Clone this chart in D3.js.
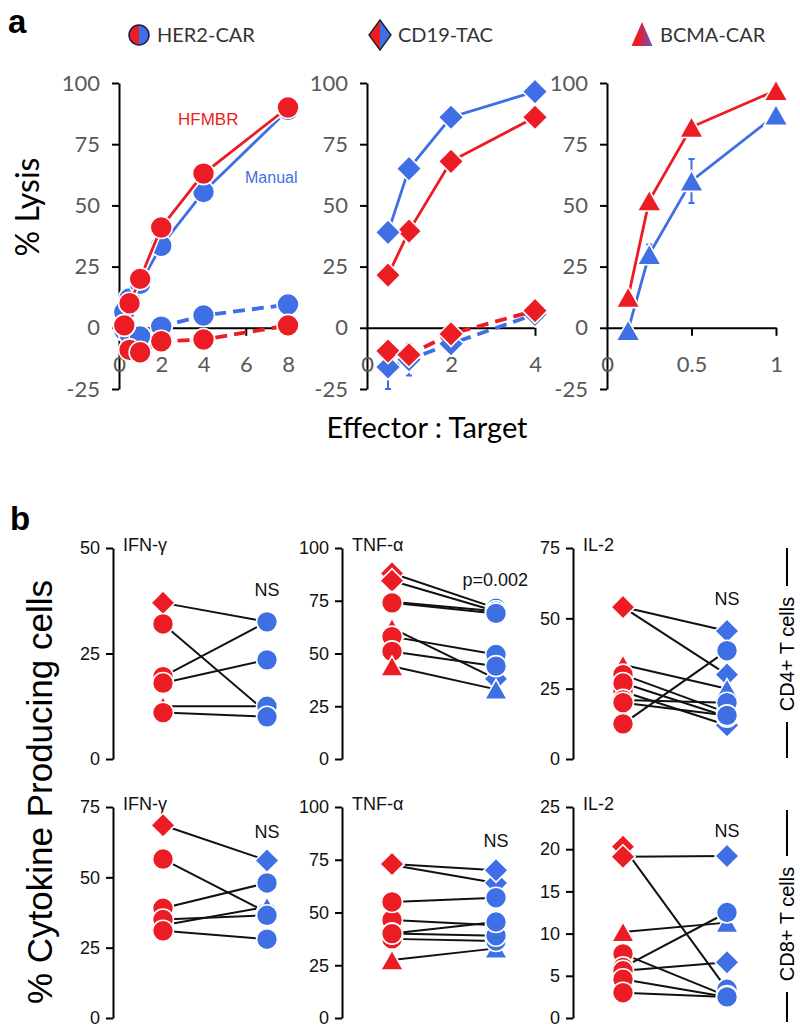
<!DOCTYPE html>
<html><head><meta charset="utf-8">
<script src="https://cdn.jsdelivr.net/npm/d3@7"></script>
<style>body{margin:0;background:#fff} svg{display:block}</style>
</head><body><svg id="chart" width="800" height="1027"></svg>
<script>
// ---------------- DATA ----------------
// Panel a : % lysis vs Effector:Target
const legendLabels = ['HER2-CAR', 'CD19-TAC', 'BCMA-CAR'];
const lysisTicks = [-25, 0, 25, 50, 75, 100];

const etHER2 = [0.25, 0.5, 1, 2, 4, 8];
const etHER2Ticks = [0, 2, 4, 6, 8];
const her2HfmbrCar = [1, 10, 20, 41, 63, 90];
const her2ManualCar = [6.5, 12, 18, 33.5, 55.5, 89];
const her2HfmbrCtrl = [1, -9, -10, -5.5, -4.8, 1];
const her2ManualCtrl = [-1, -2.5, -3.5, 0.5, 5, 9.5];

const etCD19 = [0.5, 1, 2, 4];
const etCD19Ticks = [0, 2, 4];
const cd19HfmbrCar = [21.5, 39.5, 68, 86];
const cd19ManualCar = [39, 65, 86, 96.5];
const cd19HfmbrCtrl = [-9.5, -11, -2.5, 7];
const cd19ManualCtrl = [-16, -13, -6.5, 5.5];
const cd19ManualCtrlErr = [9, 6.5, 0, 0];

const etBCMA = [0.125, 0.25, 0.5, 1];
const etBCMATicks = [0, 0.5, 1];
const bcmaHfmbrCar = [12.5, 52, 82, 97];
const bcmaManualCar = [-1, 30, 60, 87];
const bcmaManualCarErr = [0, 4, 9, 0];

// Panel b : % cytokine producing cells (HFMBR vs Manual, paired donors)
// shapes: c = HER2-CAR, d = CD19-TAC, t = BCMA-CAR
const cd4IfngHfmbr  = [37, 32, 19.5, 18, 12.5, 11];
const cd4IfngManual = [32.5, 11, 32.5, 23.5, 12.5, 10];
const cd4IfngShapeH = ['d', 'c', 'c', 'c', 't', 'c'];
const cd4IfngShapeM = ['c', 'c', 'c', 'c', 'c', 'c'];

const cd4TnfHfmbr  = [88, 84.5, 74.5, 74, 62, 58, 51, 44];
const cd4TnfManual = [71.5, 70, 70, 69, 38, 49.5, 44, 33];
const cd4TnfShapeH = ['d', 'd', 'c', 'c', 't', 'c', 'c', 't'];
const cd4TnfShapeM = ['c', 'c', 'c', 'c', 'd', 'c', 'c', 't'];

const cd4Il2Hfmbr  = [54, 54, 33.5, 24, 30, 27, 21, 20, 12.5];
const cd4Il2Manual = [45.5, 30, 25, 12, 16.5, 15, 20, 15.5, 38.5];
const cd4Il2ShapeH = ['d', 'd', 't', 'c', 'c', 'c', 'c', 'c', 'c'];
const cd4Il2ShapeM = ['d', 'd', 't', 'd', 'c', 'c', 'c', 'c', 'c'];

const cd8IfngHfmbr  = [68.5, 56.5, 39, 33, 35, 31];
const cd8IfngManual = [56, 37.5, 48, 39.5, 36.5, 28];
const cd8IfngShapeH = ['d', 'c', 'c', 'c', 'c', 'c'];
const cd8IfngShapeM = ['d', 'c', 'c', 't', 'c', 'c'];

const cd8TnfHfmbr  = [27.5, 72.5, 37.5, 46.5, 40, 55, 73, 40];
const cd8TnfManual = [33, 64, 36.5, 44, 39, 57, 70, 45.5];
const cd8TnfShapeH = ['t', 'd', 'c', 'c', 'c', 'c', 'd', 'c'];
const cd8TnfShapeM = ['t', 'd', 'c', 'c', 'c', 'c', 'd', 'c'];

const cd8Il2Hfmbr  = [20.3, 19.1, 10.2, 7.6, 6, 5.6, 4.6, 3];
const cd8Il2Manual = [3.4, 19.2, 11.3, 2.6, 12.5, 6.6, 2.5, 2.5];
const cd8Il2ShapeH = ['d', 'd', 't', 'c', 'c', 'c', 'c', 'c'];
const cd8Il2ShapeM = ['c', 'd', 't', 'c', 'c', 'd', 'c', 'c'];

const cytokineNames = ['IFN-γ', 'TNF-α', 'IL-2'];
const cd4Stats = ['NS', 'p=0.002', 'NS'];
const cd8Stats = ['NS', 'NS', 'NS'];
const groups = ['HFMBR', 'Manual'];

// ---------------- DRAWING ----------------
const RED = '#ec1c24', BLUE = '#3f6fe4';
const svg = d3.select('#chart');
const LATO = 'Lato, "Open Sans", sans-serif';
const ARIAL = '"Liberation Sans", Arial, sans-serif';

function markerPath(shape, s) {
  if (shape === 'c') return d3.symbol(d3.symbolCircle, Math.PI * s * s)();
  if (shape === 'd') { const h = s * 1.15; return `M0,${-h}L${h},0L0,${h}L${-h},0Z`; }
  return `M0,${-s * 0.95}L${s * 1.08},${s * 0.95}L${-s * 1.08},${s * 0.95}Z`;
}

// panel letters
svg.append('text').attr('x', 8).attr('y', 33).text('a')
  .attr('font-family', ARIAL).attr('font-weight', 'bold').attr('font-size', 33);
svg.append('text').attr('x', 10).attr('y', 530).text('b')
  .attr('font-family', ARIAL).attr('font-weight', 'bold').attr('font-size', 33);

// legend
const defs = svg.append('defs');
const grad = defs.append('linearGradient').attr('id', 'tri').attr('x1', '0').attr('x2', '1');
grad.append('stop').attr('offset', '0.35').attr('stop-color', RED);
grad.append('stop').attr('offset', '1').attr('stop-color', '#5a5ad8');
const legX = [139, 380, 642];
const legG = svg.append('g');
legendLabels.forEach((lab, i) => {
  const g = legG.append('g').attr('transform', `translate(${legX[i]},35)`);
  if (i === 0) {
    g.append('path').attr('d', d3.arc()({innerRadius: 0, outerRadius: 10, startAngle: Math.PI, endAngle: 2 * Math.PI})).attr('fill', RED);
    g.append('path').attr('d', d3.arc()({innerRadius: 0, outerRadius: 10, startAngle: 0, endAngle: Math.PI})).attr('fill', BLUE);
    g.append('circle').attr('r', 10).attr('fill', 'none').attr('stroke', '#1b1f4a').attr('stroke-width', 1.5);
  } else if (i === 1) {
    g.append('path').attr('d', 'M0,-15L-11,0L0,15Z').attr('fill', RED);
    g.append('path').attr('d', 'M0,-15L11,0L0,15Z').attr('fill', BLUE);
    g.append('path').attr('d', 'M0,-15L11,0L0,15L-11,0Z').attr('fill', 'none').attr('stroke', '#222').attr('stroke-width', 1.4);
  } else {
    g.append('path').attr('d', 'M0,-13L10.5,11L-10.5,11Z').attr('fill', 'url(#tri)');
  }
  svg.append('text').attr('x', legX[i] + 18).attr('y', 42).text(lab)
    .attr('font-family', LATO).attr('font-size', 20).attr('fill', '#333');
});

// Panel a
const yA = d3.scaleLinear().domain([-25, 100]).range([389, 83]);

function series(g, x, xs, ys, color, dashed, shape, errs) {
  const line = d3.line().x((d, i) => x(xs[i])).y(d => yA(d));
  if (!dashed) g.append('path').attr('d', line(ys)).attr('fill', 'none').attr('stroke', '#fff').attr('stroke-width', 6);
  g.append('path').attr('d', line(ys)).attr('fill', 'none').attr('stroke', color)
    .attr('stroke-width', dashed ? 3.8 : 2.8).attr('stroke-dasharray', dashed ? '12,7' : null);
  if (errs) {
    ys.forEach((v, i) => {
      if (!errs[i]) return;
      const cx = x(xs[i]);
      g.append('path').attr('d', `M${cx},${yA(v - errs[i])}V${yA(v + errs[i])}M${cx - 3},${yA(v - errs[i])}H${cx + 3}M${cx - 3},${yA(v + errs[i])}H${cx + 3}`)
        .attr('stroke', color).attr('stroke-width', 2).attr('fill', 'none');
    });
  }
  g.selectAll(null).data(ys).join('path')
    .attr('transform', (d, i) => `translate(${x(xs[i])},${yA(d)})`)
    .attr('d', markerPath(shape, 11)).attr('fill', color).attr('stroke', '#fff').attr('stroke-width', 1.6);
}

function lysisPanel(range, xs, ticks, sets, shape) {
  const x = d3.scaleLinear().domain([0, d3.max(ticks)]).range(range);
  const g = svg.append('g');
  const ya = g.append('g').attr('transform', `translate(${range[0]},0)`)
    .call(d3.axisLeft(yA).tickValues(lysisTicks).tickSize(7).tickSizeOuter(0).tickPadding(12).tickFormat(d => String(d)));
  const xa = g.append('g').attr('transform', `translate(0,${yA(0)})`)
    .call(d3.axisBottom(x).tickValues(ticks).tickSize(8).tickSizeOuter(0).tickPadding(21).tickFormat(d => String(d)));
  [ya, xa].forEach(a => {
    a.selectAll('.domain, line').attr('stroke', '#000').attr('stroke-width', 2);
    a.selectAll('text').attr('font-family', LATO).attr('font-size', 22).attr('fill', '#595959');
  });
  xa.selectAll('.tick').filter(d => d === 0).select('line').remove();
  sets.forEach(s => series(g, x, xs, s.v, s.c, s.dashed, shape, s.err));
}

lysisPanel([119, 288], etHER2, etHER2Ticks, [
  {v: her2ManualCtrl, c: BLUE, dashed: true},
  {v: her2HfmbrCtrl, c: RED, dashed: true},
  {v: her2ManualCar, c: BLUE},
  {v: her2HfmbrCar, c: RED}
], 'c');
lysisPanel([367, 535], etCD19, etCD19Ticks, [
  {v: cd19ManualCtrl, c: BLUE, dashed: true, err: cd19ManualCtrlErr},
  {v: cd19HfmbrCtrl, c: RED, dashed: true},
  {v: cd19HfmbrCar, c: RED},
  {v: cd19ManualCar, c: BLUE}
], 'd');
lysisPanel([607, 776], etBCMA, etBCMATicks, [
  {v: bcmaManualCar, c: BLUE, err: bcmaManualCarErr},
  {v: bcmaHfmbrCar, c: RED}
], 't');

svg.append('text').attr('x', 178).attr('y', 125).text('HFMBR')
  .attr('font-family', ARIAL).attr('font-size', 17).attr('fill', RED);
svg.append('text').attr('x', 245).attr('y', 183).text('Manual')
  .attr('font-family', ARIAL).attr('font-size', 16).attr('fill', BLUE);
svg.append('text').attr('transform', 'translate(39,207) rotate(-90)').attr('text-anchor', 'middle')
  .text('% Lysis').attr('font-family', LATO).attr('font-size', 32).attr('fill', '#000');
svg.append('text').attr('x', 427).attr('y', 438).attr('text-anchor', 'middle')
  .text('Effector : Target').attr('font-family', LATO).attr('font-size', 29).attr('fill', '#000');

// Panel b
function cytokinePanel(axisX, top, bottom, max, step, name, stat, statY, hf, man, shH, shM) {
  const y = d3.scaleLinear().domain([0, max]).range([bottom, top]);
  const x = d3.scalePoint().domain(groups).range([axisX + 50, axisX + 154]);
  const g = svg.append('g');
  const a = g.append('g').attr('transform', `translate(${axisX},0)`)
    .call(d3.axisLeft(y).tickValues(d3.range(0, max + step / 2, step)).tickSize(7).tickSizeOuter(0).tickPadding(6));
  a.selectAll('.domain, line').attr('stroke', '#000').attr('stroke-width', 2);
  a.selectAll('text').attr('font-family', ARIAL).attr('font-size', 18).attr('fill', '#111');
  g.append('text').attr('x', axisX + 10).attr('y', top + 3).text(name)
    .attr('font-family', ARIAL).attr('font-size', 18).attr('fill', '#111');
  g.append('text').attr('x', stat === 'NS' ? x('Manual') : x('Manual') + 32).attr('y', statY)
    .attr('text-anchor', stat === 'NS' ? 'middle' : 'end').text(stat)
    .attr('font-family', ARIAL).attr('font-size', 18).attr('fill', '#111');
  g.selectAll(null).data(hf).join('line')
    .attr('x1', x('HFMBR')).attr('x2', x('Manual'))
    .attr('y1', d => y(d)).attr('y2', (d, i) => y(man[i]))
    .attr('stroke', '#111').attr('stroke-width', 2);
  g.selectAll(null).data(hf).join('path')
    .attr('transform', d => `translate(${x('HFMBR')},${y(d)})`)
    .attr('d', (d, i) => markerPath(shH[i], 10.5)).attr('fill', RED).attr('stroke', '#fff').attr('stroke-width', 1.6);
  g.selectAll(null).data(man).join('path')
    .attr('transform', d => `translate(${x('Manual')},${y(d)})`)
    .attr('d', (d, i) => markerPath(shM[i], 10.5)).attr('fill', BLUE).attr('stroke', '#fff').attr('stroke-width', 1.6);
}

cytokinePanel(113, 548, 759, 50, 25, cytokineNames[0], cd4Stats[0], 596, cd4IfngHfmbr, cd4IfngManual, cd4IfngShapeH, cd4IfngShapeM);
cytokinePanel(342, 548, 759, 100, 25, cytokineNames[1], cd4Stats[1], 586, cd4TnfHfmbr, cd4TnfManual, cd4TnfShapeH, cd4TnfShapeM);
cytokinePanel(573, 548, 759, 75, 25, cytokineNames[2], cd4Stats[2], 605, cd4Il2Hfmbr, cd4Il2Manual, cd4Il2ShapeH, cd4Il2ShapeM);
cytokinePanel(113, 807, 1018, 75, 25, cytokineNames[0], cd8Stats[0], 838, cd8IfngHfmbr, cd8IfngManual, cd8IfngShapeH, cd8IfngShapeM);
cytokinePanel(342, 807, 1018, 100, 25, cytokineNames[1], cd8Stats[1], 847, cd8TnfHfmbr, cd8TnfManual, cd8TnfShapeH, cd8TnfShapeM);
cytokinePanel(573, 807, 1018, 25, 5, cytokineNames[2], cd8Stats[2], 837, cd8Il2Hfmbr, cd8Il2Manual, cd8Il2ShapeH, cd8Il2ShapeM);

svg.append('text').attr('transform', 'translate(52,792) rotate(-90)').attr('text-anchor', 'middle')
  .text('% Cytokine Producing cells').attr('font-family', ARIAL).attr('font-size', 35).attr('fill', '#000');

function sideLabel(label, cy, y0, y1) {
  svg.append('text').attr('transform', `translate(794,${cy}) rotate(-90)`).attr('text-anchor', 'middle')
    .text(label).attr('font-family', ARIAL).attr('font-size', 20).attr('fill', '#000');
  svg.append('path').attr('d', `M787,${y0}V${cy - 68}M787,${cy + 68}V${y1}`).attr('stroke', '#000').attr('stroke-width', 2);
}
sideLabel('CD4+ T cells', 654, 548, 758);
sideLabel('CD8+ T cells', 924, 810, 1022);
</script></body></html>
